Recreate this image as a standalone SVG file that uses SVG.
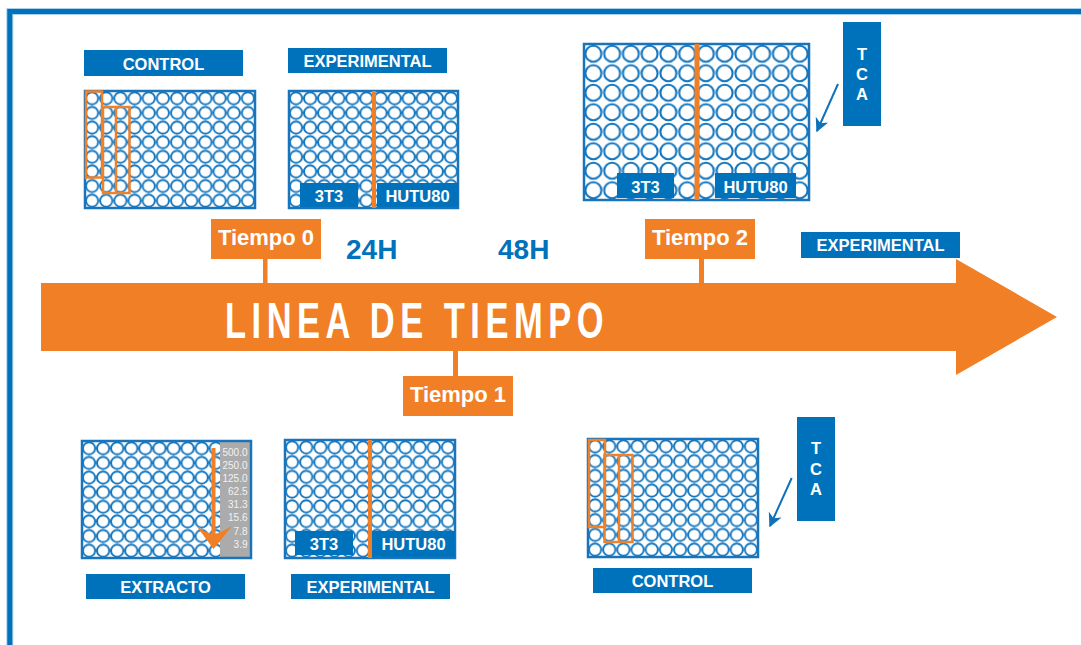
<svg xmlns="http://www.w3.org/2000/svg" width="1081" height="645" viewBox="0 0 1081 645">
<style>
.well{fill:#fff;stroke:#1476BE;stroke-width:1.9}
.wellb{fill:#fff;stroke:#1476BE;stroke-width:2.1}
.plate{fill:none;stroke:#1A74BB;stroke-width:2.5}
.lbl{fill:#0072BB}
.lt{fill:#fff;font-family:"Liberation Sans",Arial,sans-serif;font-weight:bold;font-size:16.5px;text-anchor:middle}
.sel{fill:none;stroke:#F08128;stroke-width:2.5}
.org{fill:#F07F26}
.tt{fill:#fff;font-family:"Liberation Sans",Arial,sans-serif;font-weight:bold;font-size:22px;text-anchor:middle}
.hr{fill:#0072BB;font-family:"Liberation Sans",Arial,sans-serif;font-weight:bold;font-size:28px}
.num{fill:#F2F2F2;font-family:"Liberation Sans",Arial,sans-serif;font-size:10px;text-anchor:end}
.tca{fill:none;stroke:#0F72B8;stroke-width:2}
</style>
<defs>
<pattern id="pA" patternUnits="userSpaceOnUse" x="85" y="91" width="14.1667" height="14.625"><circle cx="7.0833" cy="7.3125" r="6.1" class="well"/></pattern>
<pattern id="pB" patternUnits="userSpaceOnUse" x="289" y="91" width="14.0833" height="14.625"><circle cx="7.0417" cy="7.3125" r="6.1" class="well"/></pattern>
<pattern id="pC" patternUnits="userSpaceOnUse" x="584" y="44" width="18.75" height="19.5"><circle cx="9.375" cy="9.75" r="8" class="wellb"/></pattern>
<pattern id="pD" patternUnits="userSpaceOnUse" x="82" y="441" width="14.0833" height="14.625"><circle cx="7.0417" cy="7.3125" r="6.1" class="well"/></pattern>
<pattern id="pE" patternUnits="userSpaceOnUse" x="285" y="440" width="14.1667" height="14.75"><circle cx="7.0833" cy="7.375" r="6.1" class="well"/></pattern>
<pattern id="pF" patternUnits="userSpaceOnUse" x="588" y="439" width="14.1667" height="14.75"><circle cx="7.0833" cy="7.375" r="6.1" class="well"/></pattern>
<marker id="ah" markerUnits="userSpaceOnUse" markerWidth="14" markerHeight="14" viewBox="0 0 10 10" refX="9" refY="5" orient="auto">
<path d="M0,0 L10,5 L0,10 L3,5 Z" fill="#0F72B8"/>
</marker>
</defs>
<rect width="1081" height="645" fill="#fff"/>
<!-- frame -->
<path d="M9.8,645 L9.8,11.5 L1081,11.5" fill="none" stroke="#A9D0EC" stroke-width="7"/>
<path d="M9.8,645 L9.8,11.5 L1081,11.5" fill="none" stroke="#0071BB" stroke-width="5"/>

<g id="timeline">
<polygon class="org" points="41,283 956,283 956,259 1057,317 956,375 956,351 41,351"/>
<text x="225" y="338" fill="#fff" font-family="Liberation Sans,Arial,sans-serif" font-weight="bold" font-size="50" letter-spacing="8" textLength="384" lengthAdjust="spacingAndGlyphs">LINEA DE TIEMPO</text>
</g>

<g id="connectors">
<rect class="org" x="263" y="258" width="4.5" height="26"/>
<rect class="org" x="453" y="350" width="5" height="27"/>
<rect class="org" x="699" y="258" width="5" height="26"/>
<line class="tca" x1="838" y1="84" x2="817" y2="131" marker-end="url(#ah)"/>
<line class="tca" x1="791.7" y1="478" x2="770" y2="526" marker-end="url(#ah)"/>
</g>

<g id="tiempo0">
<rect class="org" x="211" y="219" width="110" height="40"/>
<text class="tt" x="266" y="245">Tiempo 0</text>
</g>
<g id="tiempo1">
<rect class="org" x="403" y="376" width="110" height="40"/>
<text class="tt" x="458" y="402">Tiempo 1</text>
</g>
<g id="tiempo2">
<rect class="org" x="645" y="219" width="110" height="40"/>
<text class="tt" x="700" y="245">Tiempo 2</text>
</g>
<g id="h24"><text class="hr" x="346" y="259">24H</text></g>
<g id="h48"><text class="hr" x="498" y="259">48H</text></g>

<!-- labels -->
<g id="lbl-control-top"><rect class="lbl" x="84" y="50" width="159" height="26"/><text class="lt" x="163.5" y="69.5">CONTROL</text></g>
<g id="lbl-exp-top"><rect class="lbl" x="288" y="48" width="159" height="25"/><text class="lt" x="367.5" y="66.5">EXPERIMENTAL</text></g>
<g id="lbl-exp-right"><rect class="lbl" x="801" y="232" width="159" height="26"/><text class="lt" x="880.5" y="251">EXPERIMENTAL</text></g>
<g id="lbl-extracto"><rect class="lbl" x="86" y="574" width="159" height="25"/><text class="lt" x="165.5" y="593">EXTRACTO</text></g>
<g id="lbl-exp-bottom"><rect class="lbl" x="291" y="574" width="159" height="25"/><text class="lt" x="370.5" y="593">EXPERIMENTAL</text></g>
<g id="lbl-control-bottom"><rect class="lbl" x="593" y="568" width="159" height="25"/><text class="lt" x="672.5" y="586.5">CONTROL</text></g>

<g id="tca-top"><rect class="lbl" x="843" y="22" width="38" height="104"/>
<text class="lt" x="862" y="59.5">T</text><text class="lt" x="862" y="80">C</text><text class="lt" x="862" y="100">A</text></g>
<g id="tca-bottom"><rect class="lbl" x="797" y="417" width="38" height="104"/>
<text class="lt" x="816" y="454">T</text><text class="lt" x="816" y="475">C</text><text class="lt" x="816" y="494.5">A</text></g>

<!-- plate A: control top -->
<g id="plate-control-top">
<rect x="85" y="91" width="170" height="117" fill="url(#pA)"/>
<rect class="plate" x="85" y="91" width="170" height="117"/>
<rect class="sel" x="86" y="91.5" width="16" height="86"/>
<rect class="sel" x="103" y="107" width="26.5" height="86"/>
<line class="sel" x1="116" y1="107" x2="116" y2="193"/>
</g>

<!-- plate B: experimental top -->
<g id="plate-exp-top">
<rect x="289" y="91" width="169" height="117" fill="url(#pB)"/>
<rect class="plate" x="289" y="91" width="169" height="117"/>
<rect class="org" x="372" y="91" width="4" height="117"/>
<rect class="lbl" x="300" y="183" width="58" height="24"/><text class="lt" x="329" y="201.5">3T3</text>
<rect class="lbl" x="377" y="183" width="81" height="24"/><text class="lt" x="417.5" y="201.5">HUTU80</text>
</g>

<!-- plate C: top right -->
<g id="plate-tca-top">
<rect x="584" y="44" width="225" height="156" fill="url(#pC)"/>
<rect class="plate" x="584" y="44" width="225" height="156"/>
<rect class="org" x="694.5" y="44" width="5" height="156"/>
<rect class="lbl" x="617" y="173" width="57" height="25"/><text class="lt" x="645.5" y="192.5">3T3</text>
<rect class="lbl" x="715" y="173" width="81" height="25"/><text class="lt" x="755.5" y="192.5">HUTU80</text>
</g>

<!-- plate D: extracto -->
<g id="plate-extracto">
<rect x="82" y="441" width="169" height="117" fill="url(#pD)"/>
<rect x="220" y="441" width="31" height="116" fill="#ABABAB"/>
<rect class="plate" x="82" y="441" width="169" height="117"/>
<text class="num" x="247.5" y="456">500.0</text>
<text class="num" x="247.5" y="469">250.0</text>
<text class="num" x="247.5" y="482">125.0</text>
<text class="num" x="247.5" y="495">62.5</text>
<text class="num" x="247.5" y="508">31.3</text>
<text class="num" x="247.5" y="521">15.6</text>
<text class="num" x="247.5" y="534.5">7.8</text>
<text class="num" x="247.5" y="547.5">3.9</text>
<rect class="org" x="211.5" y="448" width="4" height="86"/>
<path class="org" d="M213.5,549 L196.5,526 Q206,533 213.5,534 Q221,533 232,526 Z"/>
</g>

<!-- plate E: experimental bottom -->
<g id="plate-exp-bottom">
<rect x="285" y="440" width="170" height="118" fill="url(#pE)"/>
<rect class="plate" x="285" y="440" width="170" height="118"/>
<rect class="org" x="368" y="440" width="4" height="118"/>
<rect class="lbl" x="295" y="531" width="58" height="24"/><text class="lt" x="324" y="550">3T3</text>
<rect class="lbl" x="372" y="531" width="83" height="26"/><text class="lt" x="413.5" y="550">HUTU80</text>
</g>

<!-- plate F: control bottom -->
<g id="plate-control-bottom">
<rect x="588" y="439" width="170" height="118" fill="url(#pF)"/>
<rect class="plate" x="588" y="439" width="170" height="118"/>
<rect class="sel" x="589" y="440" width="16" height="87"/>
<rect class="sel" x="604.5" y="455" width="28" height="87"/>
<line class="sel" x1="619" y1="455" x2="619" y2="542"/>
</g>
</svg>
